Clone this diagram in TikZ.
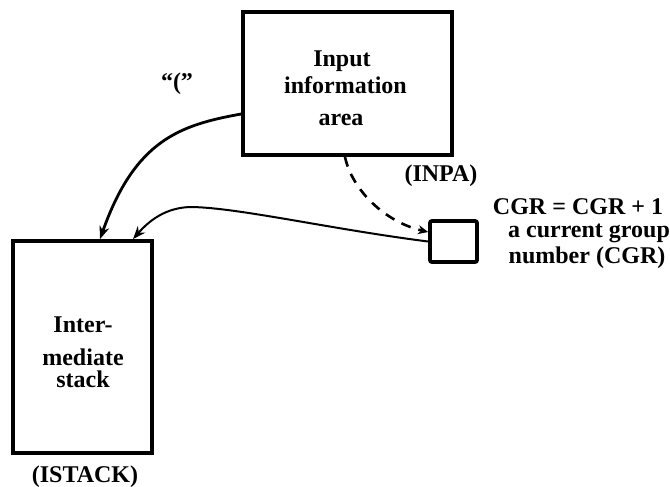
\documentclass[tikz,border=0pt]{standalone}
\usepackage{fontspec}
\setmainfont{Liberation Serif}
\usetikzlibrary{arrows.meta}
\begin{document}
\begin{tikzpicture}[x=0.5pt,y=-0.5pt,
  box/.style={draw, line width=1.9pt, inner sep=0pt},
  lbl/.style={font=\bfseries\fontsize{12}{13}\selectfont, inner sep=0pt, anchor=base},
  arr/.style={-{Stealth[length=6.5pt,width=5pt]}, line width=1.4pt},
  thinarr/.style={-{Stealth[length=6.5pt,width=5pt]}, line width=1pt},
  dasharr/.style={-{Stealth[length=5pt,width=4.5pt]}, line width=1.3pt, dash pattern=on 5pt off 4pt}]
\useasboundingbox (0,0) rectangle (670,487);
% boxes
\node[box, minimum width=104.5pt, minimum height=71.5pt] (inpa) at (347.5,83.5) {};
\node[box, minimum width=69.5pt, minimum height=106pt] (stack) at (82.5,347) {};
\node[box, minimum width=23.5pt, minimum height=20.5pt, rounded corners=1pt] (cgr) at (453.5,241.5) {};
% texts
\node[lbl] (inpa1) at (342,66) {Input};
\node[lbl] (inpa2) at (345.5,93) {information};
\node[lbl] (inpa3) at (341,125) {area};
\node[lbl] (inpan) at (441,181) {(INPA)};
\node[lbl] (paren) at (177,89) {``(''};
\node[lbl] (stack1) at (83,332) {Inter-};
\node[lbl] (stack2) at (83,365) {mediate};
\node[lbl] (stack3) at (83,387) {stack};
\node[lbl] (stackn) at (85,482) {(ISTACK)};
\node[lbl] (cgr1) at (578,214) {CGR = CGR + 1};
\node[lbl] (cgr2) at (589,237) {a current group};
\node[lbl] (cgr3) at (587,263) {number (CGR)};
% connectors
\coordinate (peak) at (192,207);
\draw[arr] (inpa.196) .. controls (180,125) and (135,140) .. ([xshift=8.75pt]stack.north);
\draw[thinarr] (cgr.west) .. controls (330,229) and (240,208) .. (peak)
  .. controls (165,207) and (148,222) .. ([xshift=25.25pt]stack.north);
\draw[dasharr] ([xshift=-1.25pt]inpa.south) .. controls (352,190) and (385,222) .. ([yshift=4.75pt]cgr.west);
\end{tikzpicture}
\end{document}
